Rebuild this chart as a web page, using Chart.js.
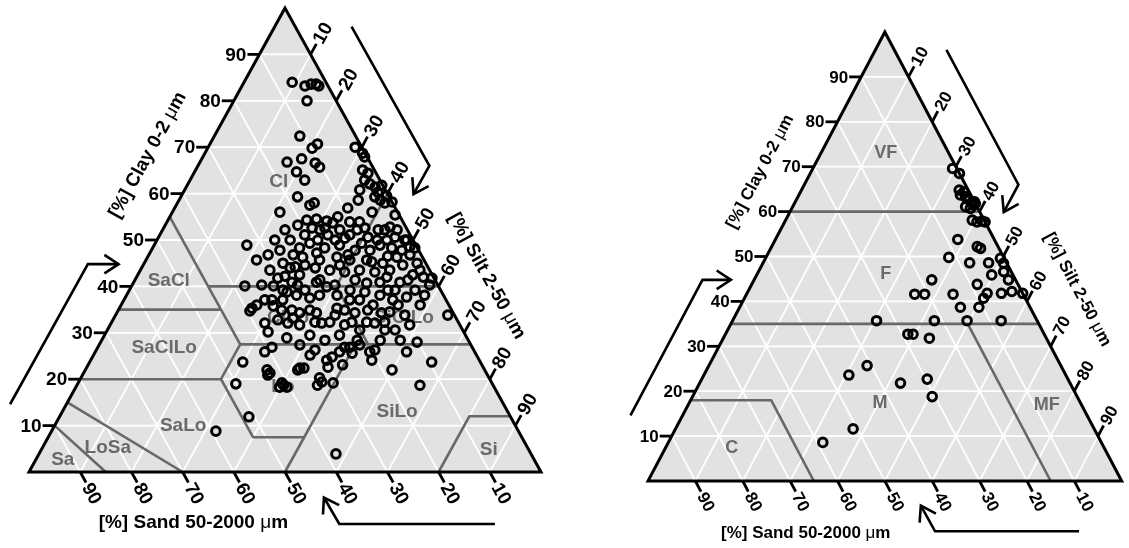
<!DOCTYPE html>
<html><head><meta charset="utf-8">
<script src="https://cdn.jsdelivr.net/npm/chart.js@4.4.1/dist/chart.umd.min.js"></script>
<style>
html,body{margin:0;padding:0;background:#fff;width:1129px;height:548px;overflow:hidden}
canvas{position:absolute;left:0;top:0}
</style></head><body>
<canvas id="c1" width="1129" height="548"></canvas>
<canvas id="c2" width="1129" height="548"></canvas>
<script>
// ---------- data (percent) ----------
const tickValues = [10,20,30,40,50,60,70,80,90];

// Left diagram samples: clay and sand content (silt = 100 - clay - sand)
const leftClay = [84.0,83.2,83.6,83.6,83.2,80.0,72.4,69.8,70.7,66.8,67.5,66.6,65.7,64.7,62.9,59.3,57.5,58.0,56.0,54.3,54.5,54.1,55.0,52.2,53.7,
70.0,68.7,67.9,65.1,64.4,62.9,62.1,61.4,61.8,60.3,60.8,58.6,59.3,58.6,58.0,58.2,59.5,53.9,51.1,50.4,52.2,52.2,52.8,52.2,50.0,48.5,50.0,50.0,50.6,52.2,
48.9,46.8,44.2,40.9,40.1,40.1,38.8,38.1,37.1,35.8,36.0,34.7,34.9,32.1,30.2,32.1,28.9,25.9,26.9,23.7,22.0,20.9,22.0,19.0,18.3,18.7,18.3,11.9,8.8,
35.3,21.3,19.2,22.4,22.4,20.3,18.7,19.4,25.9,26.3,24.1,22.0,25.9,28.0,18.7,23.7,33.8,41.8,3.9,
34.3,34.9,34.3,32.1,32.3,35.3,34.9,33.2,26.3,24.1,22.6,24.8,25.9,26.9,26.9,25.6,28.4,23.1,19.2,32.3,32.1,32.3,34.3,36.0,37.1,37.7,
42.5,42.0,40.9,42.0,40.9,40.7,39.2,38.1,39.9,40.9,39.2,37.1,46.3,46.8,45.0,45.0,45.7,45.7,46.3,47.2,46.3,45.0,43.5,45.7,
49.3,48.3,48.9,47.8,47.8,48.3,44.6,43.5,43.1,43.5,43.1,43.5,44.0,42.5,42.2,38.1,37.1,36.0,39.2,39.2,33.8,36.0,30.6,30.6,31.7,
29.5,27.4,28.4,28.4,28.4,34.3,40.3,47.8,51.1,51.1,55.4,56.0,56.9,
50.0,48.3,50.0,50.0,46.8,49.3,48.9,47.8,48.3,43.5,41.4,39.2,38.1,38.8,37.1,40.3,41.4,37.5,40.3,39.2,41.8,44.0,44.6,45.7,44.6,
41.4,45.3,46.5,50.0,50.6,52.6,53.9,52.2,52.6,52.6,53.2,52.2,50.0,46.8,37.1,34.9,31.7,32.3,33.8,32.3,34.9,34.5,31.7,38.1,40.3,
32.8,25.2,29.5,27.4,30.6];
const leftSand = [6.6,4.5,3.1,2.1,1.8,5.7,10.9,9.8,8.3,16.2,13.0,10.8,10.4,15.4,14.7,17.9,16.4,15.3,23.0,18.6,16.6,14.8,12.2,17.1,13.8,
1.3,0.5,0.5,2.3,1.6,3.0,2.4,1.7,0.2,1.7,5.0,6.4,2.8,2.1,1.5,0.0,0.4,8.5,11.8,13.1,5.7,4.4,3.1,2.0,1.2,1.4,5.1,7.0,8.5,9.8,
33.0,25.0,25.9,28.2,37.8,32.2,30.2,28.7,34.0,34.4,37.5,39.5,31.2,37.9,38.2,33.4,35.2,41.0,39.1,46.4,42.5,42.9,36.5,50.1,41.9,40.9,40.5,51.1,59.1,
38.8,42.3,41.0,35.9,35.1,33.1,34.3,33.1,20.5,19.3,21.0,18.1,13.3,10.2,14.3,9.5,1.3,0.4,38.1,
30.0,27.7,26.7,26.8,25.1,22.2,20.9,31.8,31.0,29.8,30.3,28.4,26.4,24.9,23.9,24.1,21.7,27.2,31.0,17.9,16.4,14.4,14.0,9.9,10.4,7.4,
3.8,2.0,7.1,9.1,11.0,13.7,17.7,20.8,21.9,23.4,26.5,31.9,5.0,2.2,1.7,8.4,11.2,14.5,16.7,20.2,23.4,27.9,31.2,32.7,
20.5,18.1,14.9,12.4,9.5,5.0,4.7,7.8,10.9,13.7,16.8,19.5,22.1,25.9,28.9,24.2,16.9,14.8,10.3,5.0,9.7,5.6,13.2,20.1,22.5,
30.4,33.4,28.0,17.2,13.3,19.2,34.4,27.1,20.6,16.1,0.8,5.0,9.3,
24.0,23.0,18.6,15.2,14.3,10.4,7.0,3.3,0.5,1.9,5.3,8.9,12.4,15.0,18.8,20.1,22.5,26.4,27.4,30.8,30.5,27.0,23.8,20.4,17.0,
15.6,10.4,6.7,1.6,3.2,8.1,10.4,13.2,15.9,18.4,20.9,23.9,27.0,29.9,35.4,33.2,31.3,28.0,23.3,20.8,16.4,12.3,9.8,3.7,1.6,
35.0,32.5,24.6,21.7,15.2];

// Right diagram samples
const rightClay = [69.6,68.5,64.8,64.4,63.7,63.3,62.6,62.2,61.5,61.1,60.7,61.8,58.1,57.7,57.9,57.7,53.8,52.2,51.8,49.8,48.6,48.6,49.6,48.5,45.9,46.6,44.8,44.8,43.8,
41.6,41.6,41.6,41.8,40.7,41.8,42.2,41.8,38.7,38.7,35.7,35.7,35.7,35.7,32.7,32.7,31.8,25.7,23.6,21.8,22.7,18.8,11.6,8.6];
const rightSand = [0.9,0.0,1.9,1.1,2.2,1.3,0.9,0.0,0.5,2.4,1.6,0.0,2.5,1.7,0.5,0.0,7.7,4.4,3.9,11.6,7.8,3.8,0.8,0.7,4.5,1.6,1.5,17.7,8.6,
22.9,20.8,14.8,7.5,8.8,4.5,2.1,0.0,14.7,10.8,33.9,21.7,14.8,7.6,28.8,27.7,24.7,40.9,45.8,35.8,29.7,30.6,50.9,58.8];

// Class boundaries as [sand, clay] vertices
const leftBounds = [
  [[45,55],[45,27.5]], [[45,40],[0,40]], [[20,40],[0,60]], [[65,35],[45,35]],
  [[45,27.5],[0,27.5]], [[20,40],[20,27.5]], [[80,20],[52.5,20]], [[52.5,20],[45,27.5]],
  [[52.5,20],[52.5,7.5],[42.5,7.5]], [[50,0],[22.5,27.5]], [[20,0],[8,12],[0,12]],
  [[85,15],[70,0]], [[90,10],[85,0]]
];
const rightBounds = [ [[40,60],[0,60]], [[65,35],[0,35]], [[15,35],[15,0]], [[82,18],[65,18],[65,0]] ];

const leftClassNames = ['Cl','SaCl','SaClLo','ClLo','SiClLo','Lo','SiLo','SaLo','LoSa','Sa','Si'];
const leftClassX = [48.8,27.3,26.4,50.6,73.2,49.6,71.9,30.1,15.4,6.6,89.8];
const leftClassY = [62.5,41.2,26.7,33.2,33.2,18.3,12.9,9.9,5.2,2.6,4.7];
const rightClassNames = ['VF','F','M','MF','C'];
const rightClassX = [50.2,50.2,49.0,84.2,17.7];
const rightClassY = [73.1,46.1,17.4,16.9,7.3];

const arrowsPath = [
  [[-3.7,14.6],[11.5,44.8],[17.5,44.8]],
  [[63,96],[78.2,66],[75.1,59.9]],
  [[91,-11.2],[60.6,-11.2],[57.6,-5.5]]
];

const FONT = '"Liberation Sans", Arial, Helvetica, sans-serif';

function drawMixed(ctx, text, size, x, y, rot){
  const i = text.indexOf('\u03bc');
  const parts = i < 0 ? [[text,'bold']] : [[text.slice(0,i),'bold'],['\u03bc','normal'],[text.slice(i+1),'bold']];
  let w = 0;
  parts.forEach(p=>{ ctx.font = p[1]+' '+size+'px '+FONT; p.push(ctx.measureText(p[0]).width); w += p[2]; });
  ctx.save(); ctx.translate(x,y); ctx.rotate(rot||0);
  ctx.textAlign='left'; ctx.textBaseline='middle';
  let cx = -w/2;
  parts.forEach(p=>{ ctx.font = p[1]+' '+size+'px '+FONT; ctx.fillText(p[0], cx, 0); cx += p[2]; });
  ctx.restore();
}

function ternPlugin(o){
  return {
    id: 'tern_'+o.id,
    beforeDatasetsDraw(chart){
      const ctx = chart.ctx, sx = chart.scales.x, sy = chart.scales.y;
      const XY = (x,y)=>[sx.getPixelForValue(x), sy.getPixelForValue(y)];
      const P = (s,c)=>XY(100-s-c/2, c);
      const seg = (a,b)=>{ctx.beginPath();ctx.moveTo(a[0],a[1]);ctx.lineTo(b[0],b[1]);ctx.stroke();};
      const A = P(0,100), BL = P(100,0), BR = P(0,0);
      ctx.save();
      ctx.beginPath(); ctx.moveTo(A[0],A[1]); ctx.lineTo(BL[0],BL[1]); ctx.lineTo(BR[0],BR[1]); ctx.closePath();
      ctx.fillStyle = '#e2e2e2'; ctx.fill();
      ctx.strokeStyle = '#ffffff'; ctx.lineWidth = 1.8;
      tickValues.forEach(v=>{ seg(P(100-v,v),P(0,v)); seg(P(v,100-v),P(v,0)); seg(P(100-v,0),P(0,100-v)); });
      ctx.strokeStyle = '#686868'; ctx.lineWidth = 2.6; ctx.lineJoin = 'round';
      o.bounds.forEach(poly=>{
        ctx.beginPath();
        poly.forEach((p,i)=>{ const q=P(p[0],p[1]); if(i) ctx.lineTo(q[0],q[1]); else ctx.moveTo(q[0],q[1]); });
        ctx.stroke();
      });
      ctx.fillStyle = '#6a6a6a'; ctx.font = 'bold '+o.labelSize+'px '+FONT;
      ctx.textAlign = 'center'; ctx.textBaseline = 'middle';
      o.names.forEach((n,i)=>{ const q = XY(o.nx[i], o.ny[i]); ctx.fillText(n, q[0], q[1]); });
      ctx.strokeStyle = '#000'; ctx.lineWidth = 3; ctx.lineJoin = 'miter';
      ctx.beginPath(); ctx.moveTo(A[0],A[1]); ctx.lineTo(BL[0],BL[1]); ctx.lineTo(BR[0],BR[1]); ctx.closePath(); ctx.stroke();
      const L = o.tickLen;
      ctx.lineWidth = 2.8; ctx.fillStyle = '#000'; ctx.font = 'bold '+o.tickSize+'px '+FONT;
      tickValues.forEach(v=>{
        const c0 = P(100-v, v);
        seg(c0, [c0[0]-L, c0[1]]);
        ctx.textAlign='right'; ctx.textBaseline='middle';
        ctx.fillText(String(v), c0[0]-L-1, c0[1]+1);
        const s0 = P(0,100-v), s1 = P(100-v,0);
        let dx = s0[0]-s1[0], dy = s0[1]-s1[1], d = Math.hypot(dx,dy); dx/=d; dy/=d;
        seg(s0, [s0[0]+dx*L, s0[1]+dy*L]);
        ctx.save(); ctx.translate(s0[0]+dx*(L+2), s0[1]+dy*(L+2)); ctx.rotate(Math.atan2(dy,dx));
        ctx.textAlign='left'; ctx.textBaseline='middle'; ctx.fillText(String(v),0,1); ctx.restore();
        const b0 = P(v,0), b1 = P(v,100-v);
        dx = b0[0]-b1[0]; dy = b0[1]-b1[1]; d = Math.hypot(dx,dy); dx/=d; dy/=d;
        seg(b0, [b0[0]+dx*L, b0[1]+dy*L]);
        ctx.save(); ctx.translate(b0[0]+dx*(L+2), b0[1]+dy*(L+2)); ctx.rotate(Math.atan2(dy,dx));
        ctx.textAlign='left'; ctx.textBaseline='middle'; ctx.fillText(String(v),0,1); ctx.restore();
      });
      ctx.fillStyle = '#000';
      let q = XY(o.sandTitleX, 0);
      drawMixed(ctx, '[%] Sand 50-2000 \u03bcm', o.titleSize, q[0], q[1]+o.sandTitleDy, 0);
      let ex = A[0]-BL[0], ey = A[1]-BL[1], ed = Math.hypot(ex,ey); ex/=ed; ey/=ed;
      q = P(100-o.clayTitleAt, o.clayTitleAt);
      drawMixed(ctx, '[%] Clay 0-2 \u03bcm', o.titleSize, q[0]+ey*o.clayTitleOff, q[1]-ex*o.clayTitleOff, Math.atan2(ey,ex));
      ex = BR[0]-A[0]; ey = BR[1]-A[1]; ed = Math.hypot(ex,ey); ex/=ed; ey/=ed;
      q = P(0, 100-o.siltTitleAt);
      drawMixed(ctx, '[%] Silt 2-50 \u03bcm', o.titleSize, q[0]+ey*o.siltTitleOff, q[1]-ex*o.siltTitleOff, Math.atan2(ey,ex));
      ctx.strokeStyle = '#000'; ctx.lineWidth = 2.6; ctx.lineJoin = 'miter'; ctx.lineCap = 'butt';
      arrowsPath.forEach(ar=>{
        const pts = ar.map(p=>XY(p[0],p[1]));
        ctx.beginPath(); pts.forEach((p,i)=>{ if(i) ctx.lineTo(p[0],p[1]); else ctx.moveTo(p[0],p[1]); }); ctx.stroke();
        const t = pts[pts.length-1], f = pts[pts.length-2];
        const a = Math.atan2(t[1]-f[1], t[0]-f[0]), hl = 17, ha = 0.58;
        ctx.beginPath();
        ctx.moveTo(t[0]+hl*Math.cos(a+Math.PI-ha), t[1]+hl*Math.sin(a+Math.PI-ha));
        ctx.lineTo(t[0], t[1]);
        ctx.lineTo(t[0]+hl*Math.cos(a+Math.PI+ha), t[1]+hl*Math.sin(a+Math.PI+ha));
        ctx.stroke();
      });
      ctx.restore();
    }
  };
}

function makeChart(id, pad, clay, sand, opts){
  return new Chart(document.getElementById(id), {
    type: 'scatter',
    data: { datasets: [{
      data: clay.map((c,i)=>({x: 100 - sand[i] - c/2, y: c})),
      pointRadius: 4.3, pointHoverRadius: 4.3, pointBorderWidth: 3,
      pointBorderColor: '#000', pointBackgroundColor: 'rgba(0,0,0,0)', clip: false
    }]},
    options: {
      responsive: false, animation: false, devicePixelRatio: 1, events: [],
      layout: { padding: pad },
      plugins: { legend: {display:false}, tooltip: {enabled:false} },
      scales: { x: {type:'linear', min:0, max:100, display:false}, y: {type:'linear', min:0, max:100, display:false} }
    },
    plugins: [ternPlugin(opts)]
  });
}

makeChart('c1', {left:29, right:588, top:8, bottom:76}, leftClay, leftSand, {
  id:'L', bounds:leftBounds, names:leftClassNames, nx:leftClassX, ny:leftClassY,
  labelSize:19, tickSize:19, titleSize:19, tickLen:12,
  sandTitleX:32.1, sandTitleDy:51, clayTitleAt:63.2, clayTitleOff:49, siltTitleAt:62.7, siltTitleOff:47
});
makeChart('c2', {left:648, right:1, top:32, bottom:67}, rightClay, rightSand, {
  id:'R', bounds:rightBounds, names:rightClassNames, nx:rightClassX, ny:rightClassY,
  labelSize:18, tickSize:17, titleSize:17, tickLen:12,
  sandTitleX:33.3, sandTitleDy:52, clayTitleAt:64.2, clayTitleOff:45, siltTitleAt:62.6, siltTitleOff:50
});
</script>
</body></html>
